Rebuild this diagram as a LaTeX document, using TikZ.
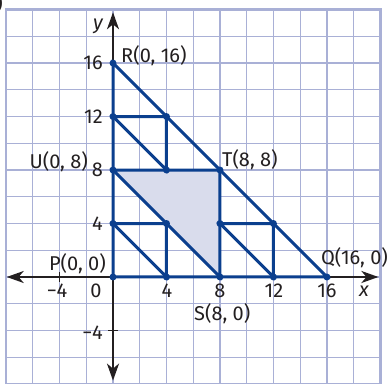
\documentclass[tikz,border=0pt]{standalone}
\usepackage{fontspec}
\setmainfont{Fira Sans}
\usetikzlibrary{arrows.meta}
\definecolor{gridc}{HTML}{A9B0D6}
\definecolor{navy}{HTML}{0B3F8E}
\definecolor{shadec}{HTML}{D9DCEC}
\definecolor{ink}{HTML}{231F20}
\tikzset{
  seg/.style={navy, line width=3pt},
  dot/.style={circle, fill=navy, inner sep=0pt, minimum size=7pt},
  lbl/.style={text=ink, inner sep=0pt, font=\fontsize{20}{20}\selectfont},
  axis/.style={ink, line width=2pt, -{Stealth[length=17pt,width=12pt,inset=5pt]}},
}
\begin{document}
\begin{tikzpicture}[x=13.37pt,y=13.37pt]
\useasboundingbox (-8.452,-7.93) rectangle (20.643,20.718);
% grid
\draw[gridc, line width=1.3pt] (-8,-8) grid[step=2] (20,20);
\draw[gridc, line width=2.6pt] (-8,-8) rectangle (20,20);
% shaded triangle
\fill[shadec] (0,8) -- (8,8) -- (8,0) -- cycle;
% axes
\coordinate (xl) at (-7.95,0); \coordinate (xr) at (19.85,0);
\coordinate (yb) at (0,-7.75); \coordinate (yt) at (0,19.8);
\coordinate (O) at (0,0);
\draw[axis] (O) -- (xr);
\draw[axis] (O) -- (xl);
\draw[axis] (O) -- (yt);
\draw[axis] (O) -- (yb);
\draw[ink, line width=1.3pt] (-4,-0.35) -- (-4,0.35);
\draw[ink, line width=1.3pt] (-0.35,-4) -- (0.35,-4);
% points
\foreach \n/\x/\y in {P/0/0,Q/16/0,R/0/16,U/0/8,T/8/8,S/8/0,a/0/12,b/4/12,c/4/8,d/0/4,e/4/4,f/4/0,g/8/4,h/12/4,i/12/0}
  \coordinate (\n) at (\x,\y);
% segments
\draw[seg] (P) -- (Q) -- (R) -- cycle;
\draw[seg] (U) -- (T) -- (S) -- cycle;
\draw[seg] (a) -- (b) -- (c) -- cycle;
\draw[seg] (d) -- (e) -- (f) -- cycle;
\draw[seg] (g) -- (h) -- (i) -- cycle;
\foreach \n in {P,Q,R,U,T,S,a,b,c,d,e,f,g,h,i}
  \node[dot] at (\n) {};
% axis labels
\node[lbl] (ylab) at (-1.12,18.75) {\itshape y};
\node[lbl] (xlab) at (18.77,-1.05) {\itshape x};
\node[lbl, anchor=east] (y16) at (-0.75,16) {16};
\node[lbl, anchor=east] (y12) at (-0.75,12) {12};
\node[lbl, anchor=east] (y8) at (-0.75,8) {8};
\node[lbl, anchor=east] (y4) at (-0.75,4) {4};
\node[lbl, anchor=east] (ym4) at (-0.75,-4.19) {−4};
\node[lbl] (xm4) at (-4.19,-1.05) {−4};
\node[lbl] (x0) at (-1.27,-1.05) {0};
\node[lbl] (x4) at (4.04,-1.05) {4};
\node[lbl] (x8) at (8,-1.05) {8};
\node[lbl] (x12) at (12.04,-1.05) {12};
\node[lbl] (x16) at (16,-1.05) {16};
% point labels
\node[lbl, anchor=base west] (Rl) at (0.6,16.08) {R(0, 16)};
\node[lbl, anchor=base east] (Ul) at (-1.87,8.15) {U(0, 8)};
\node[lbl, anchor=base west] (Tl) at (8.15,8.3) {T(8, 8)};
\node[lbl, anchor=base east] (Pl) at (-0.52,0.52) {P(0, 0)};
\node[lbl, anchor=base west] (Ql) at (15.55,0.9) {Q(16, 0)};
\node[lbl, anchor=base west] (Sl) at (6.06,-3.22) {S(8, 0)};
% cropped fragment at top-left
\node[lbl, anchor=base east] (frag) at (-8.23,19.9) {)};
\end{tikzpicture}
\end{document}
